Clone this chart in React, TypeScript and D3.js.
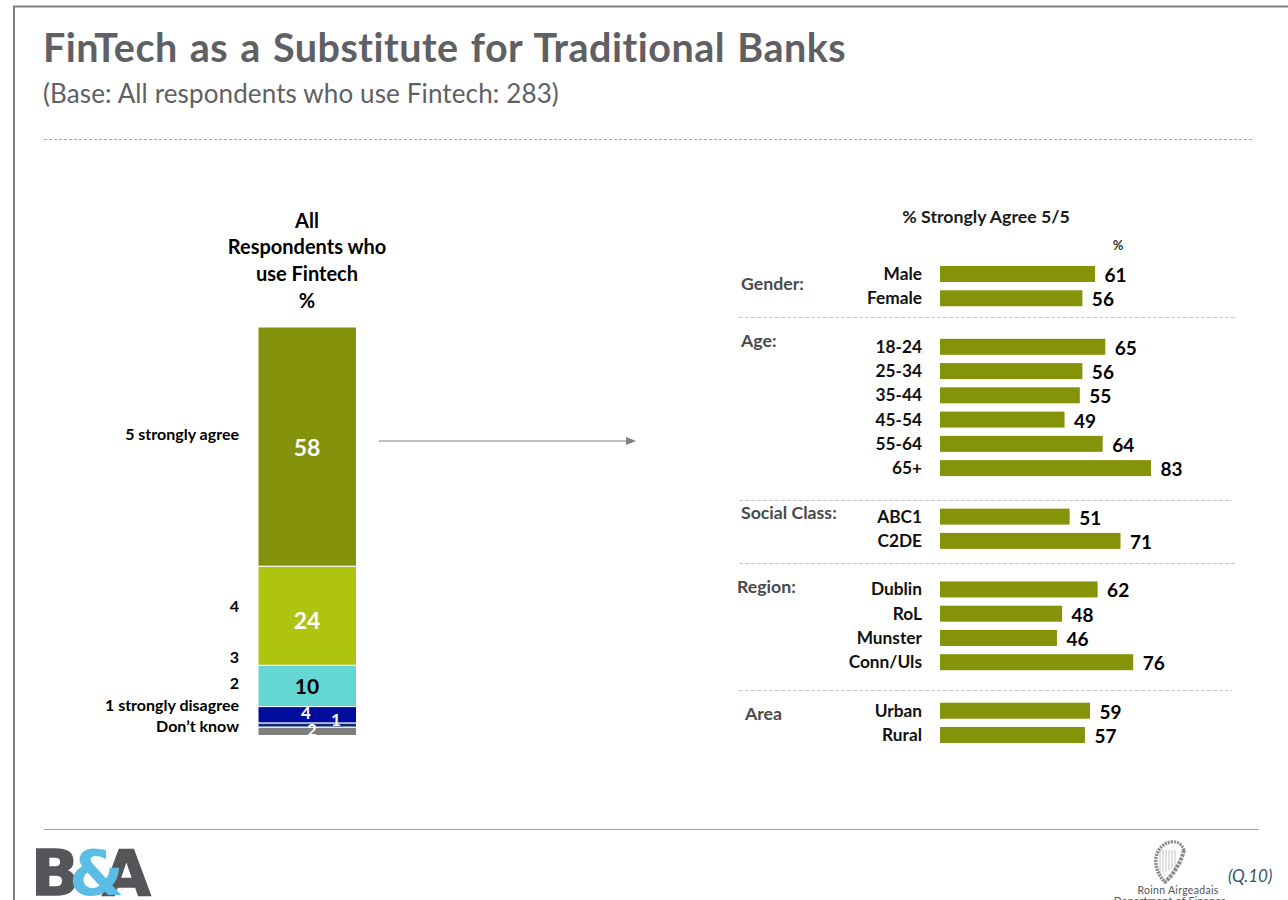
import React from "react";
import * as d3 from "d3";

// Overall agreement stack, top to bottom
const scaleKeys = ["agree5", "agree4", "agree2", "agree1", "thin", "dk"];
const stackValues = [58, 24, 10, 4, 1, 2];
const stackColors = ["#83920a", "#afc40f", "#64d6d4", "#000c9c", "#0f2a6e", "#7f7f7f"];
const stackText = ["#ffffff", "#ffffff", "#000000", "#ffffff", "#ffffff", "#ffffff"];

// Breakdown of "% strongly agree" by demographic group
const groupNames = ["Gender:", "Age:", "Social Class:", "Region:", "Area"];
const groupRows = [
  ["Male", "Female"],
  ["18-24", "25-34", "35-44", "45-54", "55-64", "65+"],
  ["ABC1", "C2DE"],
  ["Dublin", "RoL", "Munster", "Conn/Uls"],
  ["Urban", "Rural"],
];
const groupValues = [
  [61, 56],
  [65, 56, 55, 49, 64, 83],
  [51, 71],
  [62, 48, 46, 76],
  [59, 57],
];
const groupLabelY = [290, 347, 519, 593, 720];
const groupLabelX = [741, 741, 741, 737, 745];
const separatorY = [317, 500, 563, 690];
const separatorEnds = [1237, 1232, 1237, 1232];

const FONT = "Lato, 'Open Sans', sans-serif";
const BAR_GREEN = "#85930b";

const stackY = d3.scaleLinear().domain([0, 99]).range([327, 735.5]);
const rowY = d3.scaleLinear().domain([0, 19]).range([274, 735]);
const barX = d3.scaleLinear().domain([0, 83]).range([940, 1151]);

const stackOffsets = d3.cumsum(stackValues);

// Each group is followed by one blank row
const groupStart: number[] = [];
groupRows.reduce((start, rows, i) => {
  groupStart[i] = start;
  return start + rows.length + 1;
}, 0);

// Crest outline: soundbox, neck and forepillar of the harp
const HARP_BOX = "M1166 883 C1158 876 1155 866 1156 858 C1157 850 1163 843 1171 842";
const HARP_NECK = "M1171 842 C1177 841 1182 844 1184 850";
const HARP_PILLAR = "M1184 850 C1181 862 1174 874 1165 882";
const HARP_STRINGS = d3.range(1160, 1178, 3);

export default function App() {
  return (
    <svg
      width={1288}
      height={900}
      viewBox="0 0 1288 900"
      style={{ position: "absolute", left: 0, top: 0, background: "#fff" }}
      fontFamily={FONT}
    >
      {/* slide frame */}
      <path d="M1288 6.5 H14 V900" fill="none" stroke="#7f7f7f" strokeWidth={2} />

      <text x={43} y={62} fontSize={39.5} fontWeight={700} fill="#5f6064" letterSpacing={0.5} wordSpacing={2}>
        FinTech as a Substitute for Traditional Banks
      </text>
      <text x={43} y={103} fontSize={26} fill="#5f6064" letterSpacing={0.13}>
        (Base: All respondents who use Fintech: 283)
      </text>
      <line x1={44} x2={1254} y1={139.5} y2={139.5} stroke="#a6a6a6" strokeDasharray="3 2" />

      {/* stacked column */}
      <g fontWeight={700} fontSize={20} textAnchor="middle" fill="#000">
        <text x={307} y={228}>All</text>
        <text x={307} y={254}>Respondents who</text>
        <text x={307} y={281}>use Fintech</text>
        <text x={307} y={308}>%</text>
      </g>
      {stackValues.map((v, i) => {
        const y0 = stackY(i === 0 ? 0 : stackOffsets[i - 1]);
        const y1 = stackY(stackOffsets[i]);
        return (
          <rect
            key={scaleKeys[i]}
            x={258}
            y={y0}
            width={98.5}
            height={y1 - y0}
            fill={stackColors[i]}
            stroke="#fff"
            strokeWidth={1}
          />
        );
      })}
      <g fontWeight={700} textAnchor="middle">
        <text x={307} y={456} fontSize={23} fill={stackText[0]}>{stackValues[0]}</text>
        <text x={307} y={629} fontSize={23} fill={stackText[1]}>{stackValues[1]}</text>
        <text x={307} y={694} fontSize={21} fill={stackText[2]}>{stackValues[2]}</text>
        <text x={306} y={719} fontSize={17} fill={stackText[3]}>{stackValues[3]}</text>
        <text x={336} y={726} fontSize={17} fill={stackText[4]}>{stackValues[4]}</text>
        <text x={312} y={736} fontSize={17} fill={stackText[5]}>{stackValues[5]}</text>
      </g>
      <g fontWeight={700} fontSize={16} textAnchor="end" fill="#000">
        <text x={239} y={440}>5 strongly agree</text>
        <text x={239} y={612}>4</text>
        <text x={239} y={663}>3</text>
        <text x={239} y={689}>2</text>
        <text x={239} y={711}>1 strongly disagree</text>
        <text x={239} y={732}>Don’t know</text>
      </g>

      <line x1={379} x2={628} y1={441} y2={441} stroke="#7f7f7f" strokeWidth={1} />
      <path d="M636 441 L626 437 V445 Z" fill="#7f7f7f" />

      {/* demographic breakdown */}
      <text x={986} y={223} fontSize={17.7} fontWeight={700} textAnchor="middle" fill="#1a1a1a">
        % Strongly Agree 5/5
      </text>
      <text x={1118} y={250} fontSize={13} fontWeight={700} textAnchor="middle" fill="#333">%</text>

      {groupRows.map((rows, g) => (
        <g key={groupNames[g]}>
          <text x={groupLabelX[g]} y={groupLabelY[g]} fontSize={17.7} fontWeight={700} fill="#4a4a4a">
            {groupNames[g]}
          </text>
          {rows.map((name, r) => {
            const y = rowY(groupStart[g] + r);
            const v = groupValues[g][r];
            return (
              <g key={name}>
                <text x={922} y={y + 6} fontSize={17.3} fontWeight={700} textAnchor="end" fill="#111">
                  {name}
                </text>
                <rect x={barX(0)} y={y - 8} width={barX(v) - barX(0)} height={16} fill={BAR_GREEN} />
                <text x={barX(v) + 9.5} y={y + 8} fontSize={19} fontWeight={700} fill="#000">
                  {v}
                </text>
              </g>
            );
          })}
          {g < groupRows.length - 1 && (
            <line
              x1={739}
              x2={separatorEnds[g]}
              y1={separatorY[g] + 0.5}
              y2={separatorY[g] + 0.5}
              stroke="#c8c8c8"
              strokeDasharray="4 2"
            />
          )}
        </g>
      ))}

      {/* footer */}
      <line x1={44} x2={1259} y1={829.5} y2={829.5} stroke="#a0a0a0" strokeWidth={1.2} />
      <g fontFamily="'DejaVu Sans', sans-serif" fontWeight={700} fontSize={63}>
        <text x={31} y={895} fill="#55565a" stroke="#55565a" strokeWidth={1.5}>B</text>
        <text x={102} y={895} fill="#55565a" stroke="#55565a" strokeWidth={1.5}>A</text>
        <text x={69} y={895} fill="#5bbde4">&amp;</text>
      </g>
      <g fill="none" stroke="#8a8a8a">
        {HARP_STRINGS.map((x) => (
          <line key={x} x1={x} x2={x} y1={850} y2={874 - (x - 1160) * 0.4} stroke="#c4c4c4" strokeWidth={1} />
        ))}
        <path d={HARP_BOX} strokeWidth={3.5} strokeDasharray="2 1" />
        <path d={HARP_NECK} strokeWidth={3} strokeDasharray="2 1" />
        <path d={HARP_PILLAR} strokeWidth={4} strokeDasharray="3 1" />
      </g>
      <text x={1178} y={894} fontSize={10.5} textAnchor="middle" fill="#555" letterSpacing={0.3}>Roinn Airgeadais</text>
      <text x={1170} y={905} fontSize={10.5} textAnchor="middle" fill="#555" letterSpacing={0.3}>Department of Finance</text>
      <text x={1228} y={882} fontSize={17} fontStyle="italic" fill="#33566e">(Q.10)</text>
    </svg>
  );
}
